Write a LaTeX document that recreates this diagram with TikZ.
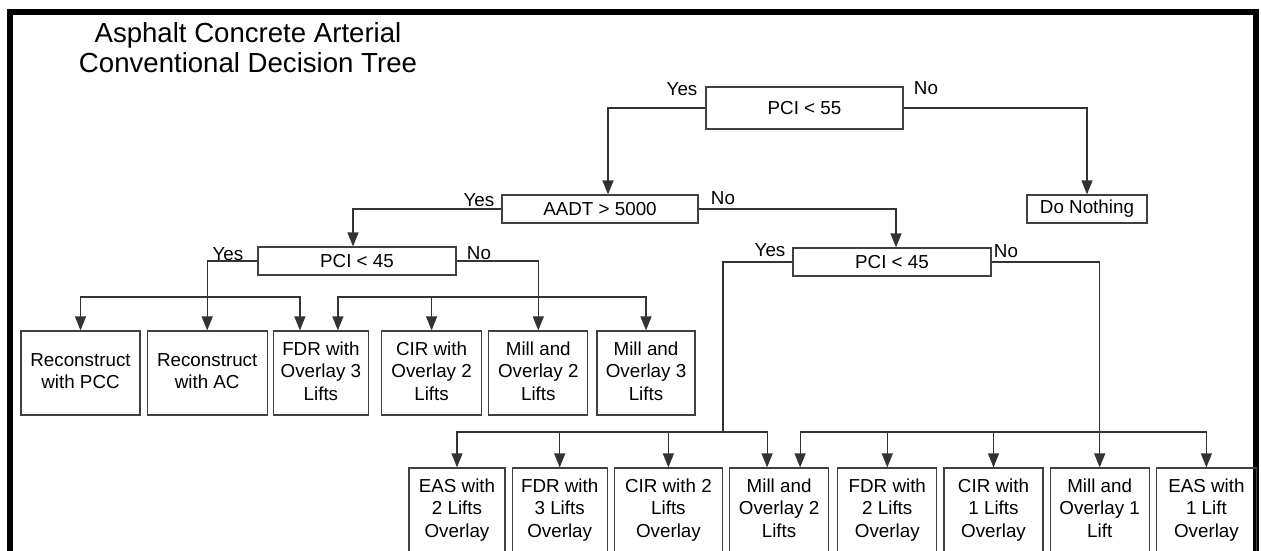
\documentclass[tikz,border=0pt]{standalone}
\usepackage{fontspec}
\setmainfont{Liberation Sans}
\usetikzlibrary{shapes,arrows.meta,positioning}

\newcommand{\leafstrut}{\rule[-4pt]{0pt}{17.5pt}}

\tikzstyle{decision} = [rectangle, draw=black!75, line width=1.2pt,
  minimum width=198pt, minimum height=28pt, inner sep=0pt]
\tikzstyle{leaf} = [rectangle, draw=black!75, line width=1.2pt, align=center,
  minimum width=99pt, minimum height=84pt, inner sep=0pt,
  execute at begin node=\leafstrut, execute at end node=\leafstrut]
\tikzstyle{line} = [draw=black!80, line width=1.2pt, -{Triangle[length=14pt,width=11pt]}]
\tikzstyle{link} = [draw=black!80, line width=1.2pt]
\tikzstyle{answer} = [inner sep=0pt]

\begin{document}
\begin{tikzpicture}[x=1pt, y=-1pt, font=\fontsize{18.8}{22.5}\selectfont]

  \useasboundingbox (0,0) rectangle (1261,551);
  \draw [line width=6pt] (10,570) -- (10,12.5) -- (1256,12.5) -- (1256,570);

  \node [answer, align=center, font=\fontsize{27.6}{30}\selectfont] (title) at (248,48)
    {Asphalt Concrete Arterial\\Conventional Decision Tree};

  % decisions
  \node [decision, minimum width=197pt, minimum height=42pt] (pci55) at (804.5,108) {PCI < 55};
  \node [decision, minimum width=196pt] (aadt) at (600,209) {AADT > 5000};
  \node [decision, minimum width=120pt] (nothing) at (1087,209) {Do Nothing};
  \node [decision] (pci45a) at (357,261) {PCI < 45};
  \node [decision] (pci45b) at (892,262) {PCI < 45};

  \node [answer] (yes55) at (682,89) {Yes};
  \node [answer] (no55) at (926,88) {No};
  \node [answer] (yesaadt) at (479,200) {Yes};
  \node [answer] (noaadt) at (723,198) {No};
  \node [answer] (yes45a) at (228,254) {Yes};
  \node [answer] (no45a) at (479,253) {No};
  \node [answer] (yes45b) at (770,250) {Yes};
  \node [answer] (no45b) at (1006,251) {No};

  % upper row
  \node [leaf, minimum width=119pt] (pcc) at (80.5,373) {Reconstruct\\with PCC};
  \node [leaf, minimum width=120pt, right=6pt of pcc] (ac) {Reconstruct\\with AC};
  \node [leaf, minimum width=95pt, right=5pt of ac] (fdr3a) {FDR with\\Overlay 3\\Lifts};
  \node [leaf, minimum width=100pt, right=12pt of fdr3a] (cir2a) {CIR with\\Overlay 2\\Lifts};
  \node [leaf, right=6pt of cir2a] (mill2a) {Mill and\\Overlay 2\\Lifts};
  \node [leaf, minimum width=98pt, right=8pt of mill2a] (mill3a) {Mill and\\Overlay 3\\Lifts};

  % lower row
  \node [leaf, minimum width=96pt] (eas2) at (457,510) {EAS with\\2 Lifts\\Overlay};
  \node [leaf, minimum width=95pt, right=6pt of eas2] (fdr3b) {FDR with\\3 Lifts\\Overlay};
  \node [leaf, minimum width=108pt, right=6pt of fdr3b] (cir2b) {CIR with 2\\Lifts\\Overlay};
  \node [leaf, right=6pt of cir2b] (mill2b) {Mill and\\Overlay 2\\Lifts};
  \node [leaf, right=8pt of mill2b] (fdr2) {FDR with\\2 Lifts\\Overlay};
  \node [leaf, right=6pt of fdr2] (cir1) {CIR with\\1 Lifts\\Overlay};
  \node [leaf, right=6pt of cir1] (mill1) {Mill and\\Overlay 1\\Lift};
  \node [leaf, minimum width=100pt, right=6pt of mill1] (eas1) {EAS with\\1 Lift\\Overlay};

  \coordinate (busA) at (0,297);
  \coordinate (busB) at (0,432);
  \coordinate (yesjoin) at (cir2b.north east |- busB);

  \path [line] (pci55.west) -| ([xshift=8pt]aadt.north);
  \path [line] (pci55.east) -| (nothing.north);
  \path [line] (aadt.west) -| ([xshift=-4pt]pci45a.north);
  \path [line] (aadt.east) -| ([xshift=4pt]pci45b.north);

  \path [line] (pci45a.west) -| (ac.north);
  \path [line] (ac.north |- busA) -| (pcc.north);
  \path [line] (ac.north |- busA) -| ([xshift=-21pt]fdr3a.north);
  \path [line] (pci45a.east) -| (mill2a.north);
  \path [line] (mill2a.north |- busA) -| ([xshift=17pt]fdr3a.north);
  \path [line] (mill2a.north |- busA) -| (mill3a.north);
  \path [line] (cir2a.north |- busA) -- (cir2a.north);

  \path [link] (pci45b.west) -| (yesjoin);
  \path [line] (yesjoin) -| (eas2.north);
  \path [line] (yesjoin) -| ([xshift=-12pt]mill2b.north);
  \path [line] (fdr3b.north |- busB) -- (fdr3b.north);
  \path [line] (cir2b.north |- busB) -- (cir2b.north);
  \path [line] (pci45b.east) -| (mill1.north);
  \path [line] (mill1.north |- busB) -| ([xshift=21pt]mill2b.north);
  \path [line] (mill1.north |- busB) -| (eas1.north);
  \path [line] (fdr2.north |- busB) -- (fdr2.north);
  \path [line] (cir1.north |- busB) -- (cir1.north);

\end{tikzpicture}
\end{document}
